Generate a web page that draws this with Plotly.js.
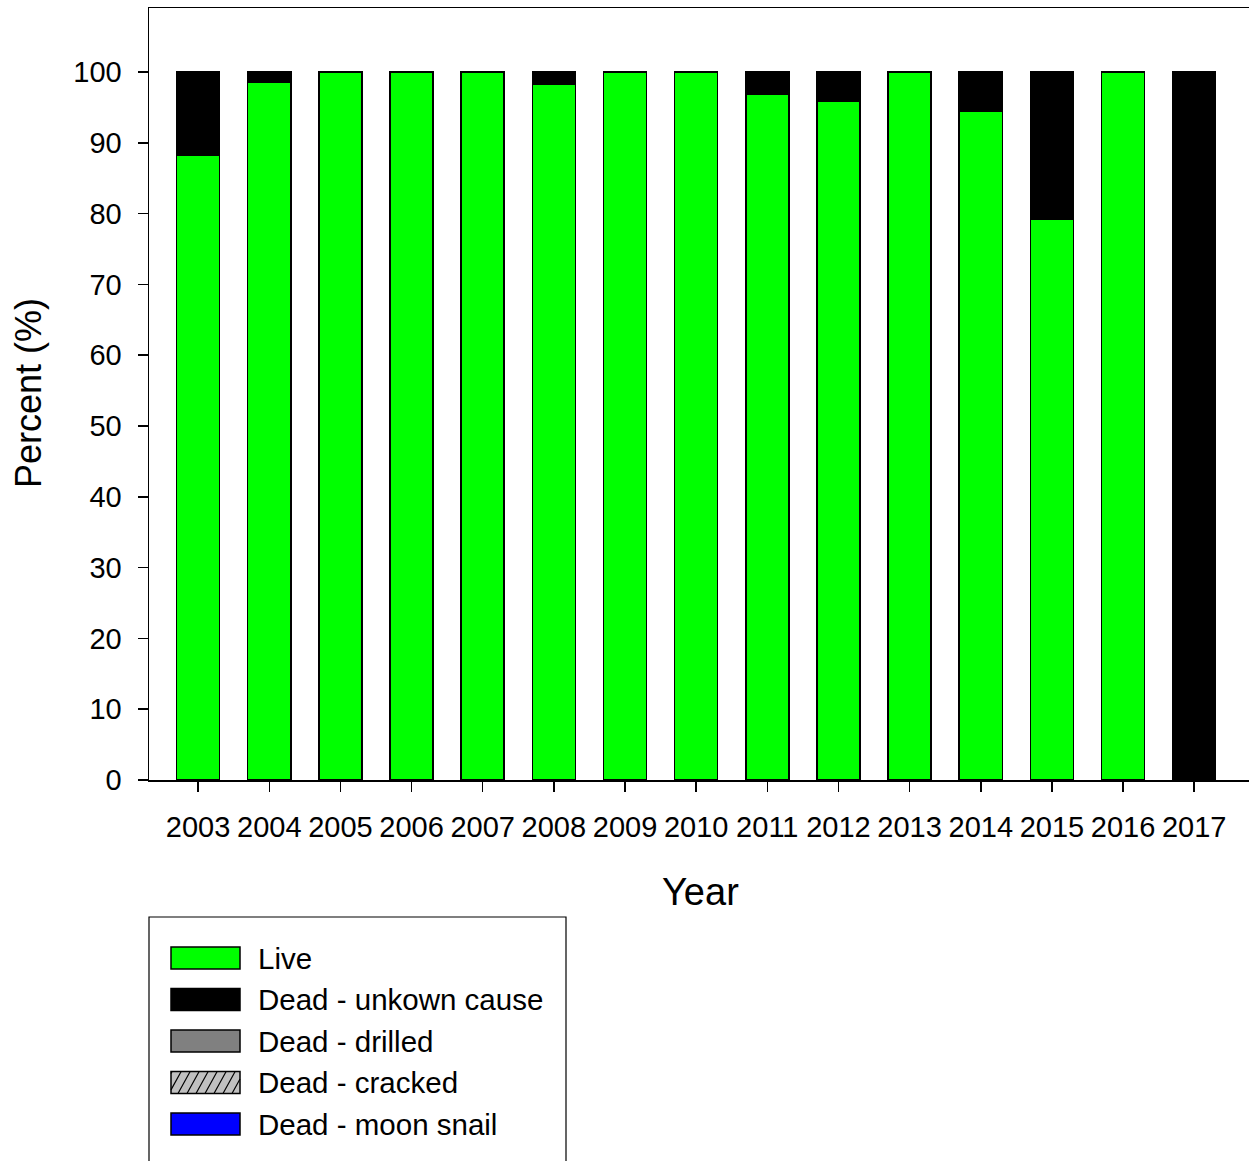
<!DOCTYPE html>
<html>
<head>
<meta charset="utf-8">
<script src="https://cdn.plot.ly/plotly-3.0.1.min.js"></script>
<style>html,body{margin:0;padding:0;background:#fff;}#chart{width:1249px;height:1161px;}</style>
</head>
<body>
<div id="chart"></div>
<script>
// ---- data ----
const years = ["2003","2004","2005","2006","2007","2008","2009","2010","2011","2012","2013","2014","2015","2016","2017"];
const live = [88.3, 98.6, 100, 100, 100, 98.3, 100, 100, 96.8, 95.8, 100, 94.5, 79.2, 100, 0];
const deadUnknown = [11.7, 1.4, 0, 0, 0, 1.7, 0, 0, 3.2, 4.2, 0, 5.5, 20.8, 0, 100];
const deadDrilled = [0,0,0,0,0,0,0,0,0,0,0,0,0,0,0];
const deadCracked = [0,0,0,0,0,0,0,0,0,0,0,0,0,0,0];
const deadMoonSnail = [0,0,0,0,0,0,0,0,0,0,0,0,0,0,0];
const seriesNames = ["Live", "Dead - unkown cause", "Dead - drilled", "Dead - cracked", "Dead - moon snail"];
const yTicks = [0,10,20,30,40,50,60,70,80,90,100];

const FONT = "Liberation Sans, Arial, Helvetica, sans-serif";
const colors = ["#00FF00", "#000000", "#808080", "#C0C0C0", "#0000FF"];
const lineStyle = {color: "#000", width: 1.5};
const barW = 0.605;

function mk(name, vals, color, pattern) {
  const m = {color: color, line: lineStyle};
  if (pattern) m.pattern = {shape: "/", fgcolor: "#000", bgcolor: color, size: 8, solidity: 0.15};
  return {type: "bar", name: name, x: years, y: vals, width: barW, marker: m, hoverinfo: "x+y+name"};
}
const traces = [
  mk(seriesNames[0], live, colors[0]),
  mk(seriesNames[1], deadUnknown, colors[1]),
  mk(seriesNames[2], deadDrilled, colors[2]),
  mk(seriesNames[3], deadCracked, colors[3], true),
  mk(seriesNames[4], deadMoonSnail, colors[4])
];

// plot area in pixels
const L = 149, R = 1249, T = 8, B = 780;
const px = x => (x - L) / (R - L);
const py = y => (B - y) / (B - T);

const shapes = [];
const annotations = [];
// legend box
shapes.push({type: "rect", xref: "paper", yref: "paper", x0: px(149), x1: px(566), y0: py(917), y1: py(1170),
  line: {color: "#000", width: 1.2}, fillcolor: "rgba(0,0,0,0)", layer: "above"});
const rowY = [958, 999.5, 1041, 1082.5, 1124];
const sx0 = 171, sx1 = 240, sh = 22;
seriesNames.forEach((n, i) => {
  const yc = rowY[i];
  shapes.push({type: "rect", xref: "paper", yref: "paper", x0: px(sx0), x1: px(sx1), y0: py(yc + sh/2), y1: py(yc - sh/2),
    fillcolor: colors[i], line: {color: "#000", width: 1.5}, layer: "above"});
  if (i === 3) {
    let d = "";
    const top = yc - sh/2, bot = yc + sh/2, dx = 9;
    for (let x = sx0 - 20; x < sx1; x += 9) {
      let xa = x, ya = bot, xb = x + dx * 1.35, yb = top;
      const slope = (yb - ya) / (xb - xa);
      if (xa < sx0) { ya = ya + slope * (sx0 - xa); xa = sx0; }
      if (xb > sx1) { yb = ya + slope * (sx1 - xa); xb = sx1; }
      if (xa >= xb) continue;
      d += `M${px(xa)},${py(ya)}L${px(xb)},${py(yb)}`;
    }
    shapes.push({type: "path", xref: "paper", yref: "paper", path: d, line: {color: "#000", width: 1.2}, layer: "above"});
  }
  annotations.push({xref: "paper", yref: "paper", x: px(256), y: py(yc), xanchor: "left", yanchor: "middle",
    text: n, showarrow: false, font: {family: FONT, size: 29.5, color: "#000"}});
});
// axis titles
annotations.push({xref: "paper", yref: "paper", x: px(700), y: py(892), xanchor: "center", yanchor: "middle",
  text: "Year", showarrow: false, font: {family: FONT, size: 38, color: "#000"}});
annotations.push({xref: "paper", yref: "paper", x: px(28), y: py(393), xanchor: "center", yanchor: "middle",
  text: "Percent (%)", textangle: -90, showarrow: false, font: {family: FONT, size: 36, color: "#000"}});

const layout = {
  width: 1249, height: 1161,
  margin: {l: L, r: 1249 - R, t: T, b: 1161 - B, pad: 0},
  paper_bgcolor: "#fff", plot_bgcolor: "#fff",
  barmode: "stack",
  showlegend: false,
  font: {family: FONT, color: "#000"},
  xaxis: {type: "category", range: [-0.69, 14.77], showline: true, linecolor: "#000", linewidth: 1.5, mirror: true,
    ticks: "outside", ticklen: 10, tickwidth: 1.5, tickcolor: "#000", showgrid: false, zeroline: false,
    tickfont: {family: FONT, size: 29, color: "#000"}, ticklabelstandoff: 11},
  yaxis: {range: [0, 109.04], tickvals: yTicks, ticktext: yTicks.map(String), showline: true, linecolor: "#000", linewidth: 1.5,
    ticks: "outside", ticklen: 10, tickwidth: 1.5, tickcolor: "#000", showgrid: false, zeroline: false,
    tickfont: {family: FONT, size: 29, color: "#000"}, ticklabelstandoff: 10},
  shapes: shapes,
  annotations: annotations
};
Plotly.newPlot("chart", traces, layout, {displayModeBar: false, staticPlot: true});
</script>
</body>
</html>
